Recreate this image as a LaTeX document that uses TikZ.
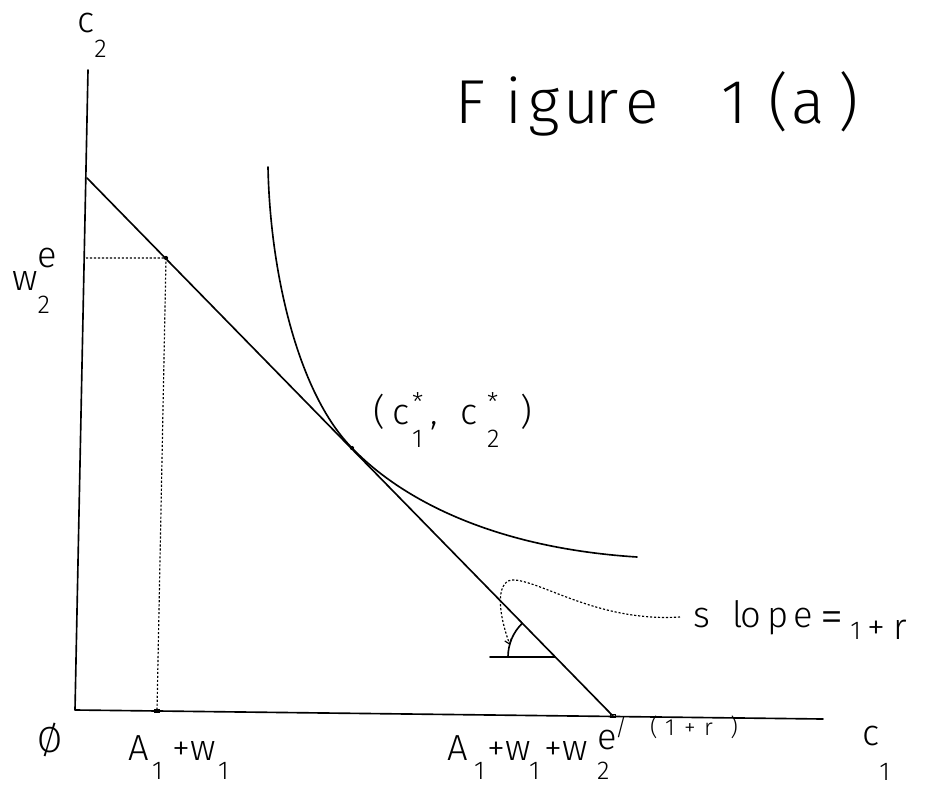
\documentclass[tikz,border=0pt]{standalone}
\usepackage{fontspec}
\setmainfont{Fira Sans}[UprightFont={* Light}]
\usetikzlibrary{arrows.meta}
\newdimen\px \px=0.85358pt
\newcommand\lblf{\fontsize{31}{31}\selectfont}
\newcommand\dgf{\fontsize{22}{22}\selectfont}
\newcommand\smf{\fontsize{20}{20}\selectfont}
\newcommand\lo[2][-17pt]{\raisebox{#1}{\dgf #2}}
\newcommand\hi[2][10pt]{\raisebox{#1}{#2}}
\newcommand\cell[2]{\makebox[#1\px][l]{#2}}
\newcommand\up[1]{\raisebox{21pt}{\smf #1}}
\tikzset{
  ink/.style={line width=1.4pt, line cap=round, line join=round},
  dotline/.style={line width=1pt, dash pattern=on 1.8pt off 1.6pt},
  lbl/.style={anchor=base west, inner sep=0pt, font=\lblf},
  marker/.style={draw, line width=0.8pt, inner sep=0pt, minimum width=5pt, minimum height=3pt},
}
\begin{document}
\begin{tikzpicture}[x=0.03cm,y=-0.03cm]
\useasboundingbox (0,0) rectangle (929,787);
% coordinates
\coordinate (ytop) at (88,70);
\coordinate (O) at (75,710);
\coordinate (xend) at (823,719);
\coordinate (B1) at (87,178);
\coordinate (B2) at (613,716);
\coordinate (E) at (166,258);
\coordinate (Ey) at (86,258);
\coordinate (Ex) at (157,711);
\coordinate (T) at (352,448);
\coordinate (Ctop) at (268,167);
\coordinate (Cend) at (637,557);
\coordinate (H1) at (490,657);
\coordinate (H2) at (555,657);
\coordinate (atip) at (510,645);
\coordinate (lead) at (680,617);
% axes
\draw[ink] (ytop) -- (O) -- (xend);
% budget line
\draw[ink] (B1) -- (B2);
% dotted projections
\draw[dotline] (Ey) -- (E) -- (Ex);
% indifference curve
\draw[ink] (Ctop) .. controls (270,270) and (297,392) .. (T)
           .. controls (372,468.5) and (450,545) .. (Cend);
% markers
\fill (E) circle[radius=1.8pt];
\fill (T) circle[radius=1.8pt];
\node[marker] (mx1) at (Ex) {};
\node[marker] (mx2) at (B2) {};
% slope indicator
\draw[ink] (H1) -- (H2);
\draw[ink] (H2) ++(180:1.41cm) arc[start angle=180, end angle=134, radius=1.41cm];
\draw[dotline, -{Straight Barb[length=4pt,width=6pt]}] (lead) .. controls (600,622) and (545,583) .. (515,580) .. controls (496,578) and (497,610) .. (atip);
% labels
\node[lbl] (c2lab) at (77,33) {c\lo[-21pt]{2}};
\node[lbl] (w2lab) at (12,290) {w\rlap{\hi[19pt]{e}}\lo[-20pt]{2}};
\node[lbl] (zero) at (37,752) {Ø};
\node[lbl] (a1lab) at (128,760) {\cell{24}{A}\cell{20}{\lo{1}}\cell{18}{+}\cell{28}{w}\lo{1}};
\node[lbl] (a2lab) at (447,760) {\cell{27}{A}\cell{13}{\lo{1}}\cell{18}{+}\cell{24}{w}\cell{15}{\lo{1}}\cell{18}{+}\cell{35}{w}\cell{18}{\rlap{\hi[9pt]{e}}\lo{2}}\cell{35}{\up{/}}\cell{15}{\up{(}}\cell{19}{\up{1}}\cell{20}{\up{+}}\cell{26}{\up{r}}\up{)}};
\node[lbl] (c1lab) at (862,745) {c\lo[-30pt]{1}};
\node[lbl] (tlab) at (373,424) {\cell{19}{(}\cell{20}{c}\cell{18}{\rlap{\hi[11pt]{\dgf *}}\lo[-20pt]{1}}\cell{30}{,}\cell{27}{c}\cell{33}{\rlap{\hi[11pt]{\dgf *}}\lo[-20pt]{2}})};
\node[lbl] (slab) at (693,627) {\cell{39}{s}\cell{8}{l}\cell{27}{o}\cell{26}{p}\cell{27}{e}\cell{30}{\raisebox{-5pt}{\fontsize{40}{40}\selectfont =}}\cell{17}{\raisebox{-11pt}{\dgf 1}}\cell{26}{\raisebox{-11pt}{+}}\raisebox{-11pt}{r}};
\node[anchor=base west, inner sep=0pt, font=\fontsize{53}{53}\selectfont] (title) at (455,123) {\cell{50}{F}\cell{23}{i}\cell{35}{g}\cell{32}{u}\cell{30}{r}\cell{96}{e}\cell{47}{1}\cell{23}{(}\cell{47}{a})};
\end{tikzpicture}
\end{document}
